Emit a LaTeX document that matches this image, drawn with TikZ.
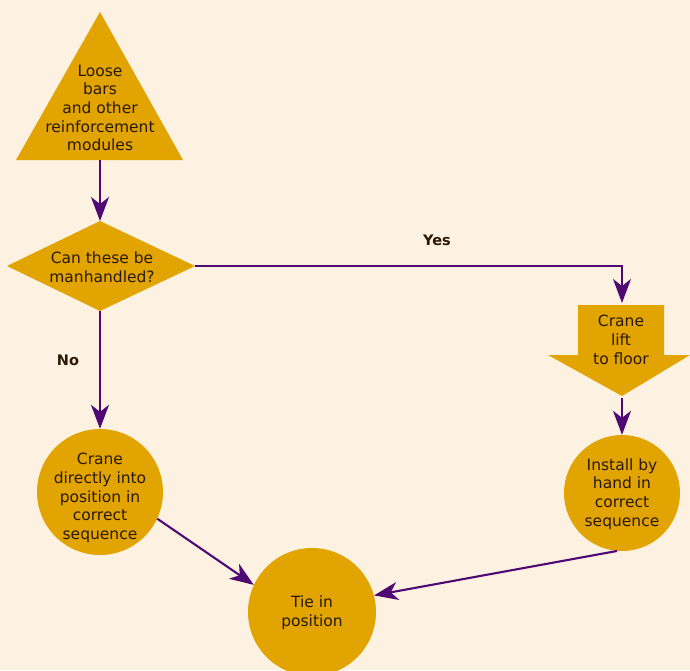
\documentclass[tikz,border=0pt]{standalone}
\usepackage{fontspec}
\setmainfont{DejaVu Sans}
\usetikzlibrary{arrows.meta,shapes.geometric}
\definecolor{bgc}{HTML}{FDF2E2}
\definecolor{gold}{HTML}{E2A400}
\definecolor{purp}{HTML}{4E0A72}
\definecolor{txt}{HTML}{2A1A05}
\tikzset{
  conn/.style={draw=purp,line width=2.1pt,-{Stealth[length=24pt,width=18pt,inset=7pt]}},
  lbl/.style={font=\fontsize{15.5}{18.7}\selectfont,text=txt,align=center},
  circ/.style={circle,fill=gold,inner sep=0pt},
  edgelbl/.style={font=\fontsize{14.5}{16}\selectfont\bfseries,text=txt}
}
\begin{document}
\begin{tikzpicture}[x=1pt,y=-1pt]
\fill[bgc] (0,0) rectangle (690,670);
\useasboundingbox (0,0) rectangle (690,670);
\begin{scope}
\clip (0,0) rectangle (690,670);
% triangle
\fill[gold] (100,12) -- (183,160) -- (16,160) -- cycle;
\coordinate (triB) at (100,160);
\node[lbl] (tri) at (100,108) {Loose\\bars\\and other\\reinforcement\\modules};
% diamond
\fill[gold] (100,221) -- (195,266) -- (100,311) -- (7,266) -- cycle;
\coordinate (diaT) at (100,221);
\coordinate (diaR) at (195,266);
\coordinate (diaB) at (100,311);
\node[lbl] (dia) at (102,267) {Can these be\\manhandled?};
% crane lift arrow shape
\fill[gold] (578,305) -- (664,305) -- (664,355) -- (690,355) -- (622,396) -- (548,355) -- (578,355) -- cycle;
\coordinate (craT) at (622,303);
\coordinate (craB) at (622,398);
\node[lbl] (cra) at (621,340) {Crane\\lift\\to floor};
% circles
\node[circ,minimum size=126pt] (cl) at (100,492) {};
\node[lbl] at (100,498) {Crane\\directly into\\position in\\correct\\sequence};
\node[circ,minimum size=116pt] (cr) at (622,493) {};
\node[lbl] at (622,494) {Install by\\hand in\\correct\\sequence};
\node[circ,minimum size=128pt] (cb) at (312,612) {};
\node[lbl] at (312,613) {Tie in\\position};
\end{scope}
% connectors
\draw[conn] (triB) -- (diaT);
\draw[conn] (diaR) -- (622,266) -- (craT);
\draw[conn] (diaB) -- (cl.north);
\draw[conn] (craB) -- (cr.north);
\draw[conn] (cl.-25) -- (cb.155);
\draw[conn] (cr.-95) -- (cb.15);
\node[edgelbl] (yes) at (437,240) {Yes};
\node[edgelbl] (no) at (68,360) {No};
\end{tikzpicture}
\end{document}
